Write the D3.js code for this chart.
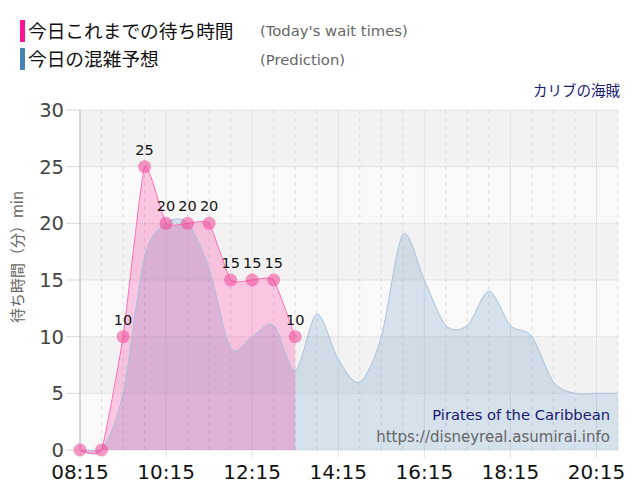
<!DOCTYPE html>
<html>
<head>
<meta charset="utf-8">
<script src="https://cdn.jsdelivr.net/npm/d3@7"></script>
<style>
body { margin: 0; background: #fff; }
text { font-family: "DejaVu Sans", Verdana, sans-serif; }
.jp { font-family: "Noto Sans CJK JP", sans-serif; }
</style>
</head>
<body>
<div id="chart"></div>
<script>
// times in "hh:mm", values in minutes
var todayTimes = ["08:15","08:45","09:15","09:45","10:15","10:45","11:15","11:45","12:15","12:45","13:15"];
var todayWait = [0, 0, 10, 25, 20, 20, 20, 15, 15, 15, 10];

var predTimes = ["08:15","08:45","09:15","09:45","10:15","10:45","11:15","11:45","12:15","12:45","13:15",
	"13:45","14:15","14:45","15:15","15:45","16:15","16:45","17:15","17:45","18:15","18:45","19:15","19:45","20:15","20:45"];
var predWait = [0, 0, 5, 17, 20, 20, 16, 9, 10, 11, 7,
	12, 8, 6, 10, 19, 15, 11, 11, 14, 11, 10, 6, 5, 5, 5];

var xTickLabels = ["08:15","10:15","12:15","14:15","16:15","18:15","20:15"];
var yTicks = [0, 5, 10, 15, 20, 25, 30];

function toMin(s){
	var p = s.split(":");
	return (+p[0]) * 60 + (+p[1]);
}

var chartW = 640, chartH = 500;
var plotLeft = 80, plotRight = 618, plotTop = 110, plotBottom = 450;
var startMin = toMin("08:15");

var svg = d3.select("#chart")
	.append("svg")
	.attr("width", chartW)
	.attr("height", chartH);

var x = d3.scaleLinear()
	.domain([startMin, toMin("20:45")])
	.range([plotLeft, plotRight]);
var y = d3.scaleLinear()
	.domain([0, 30])
	.range([plotBottom, plotTop]);

// background bands
var bands = d3.range(0, 30, 5);
svg.append("g").selectAll("rect")
	.data(bands)
	.enter().append("rect")
	.attr("x", plotLeft)
	.attr("width", plotRight - plotLeft)
	.attr("y", function(d){ return y(d + 5); })
	.attr("height", function(d){ return y(d) - y(d + 5); })
	.attr("fill", function(d, i){ return i % 2 ? "#f2f2f2" : "#f9f9f9"; });

// vertical grid: every 30 min dashed, every 2 h solid
var gridTimes = d3.range(startMin, toMin("20:45") + 1, 30);
function isMajor(d){ return (d - startMin) % 120 === 0; }
svg.append("g").selectAll("line")
	.data(gridTimes)
	.enter().append("line")
	.attr("x1", function(d){ return x(d); })
	.attr("x2", function(d){ return x(d); })
	.attr("y1", plotTop)
	.attr("y2", function(d){ return isMajor(d) ? plotBottom + 8 : plotBottom; })
	.attr("stroke", function(d){ return isMajor(d) ? "#e2e2e2" : "#dcdcdc"; })
	.attr("stroke-dasharray", function(d){ return isMajor(d) ? null : "4,4"; });

// horizontal grid
svg.append("g").selectAll("line")
	.data(yTicks)
	.enter().append("line")
	.attr("x1", plotLeft)
	.attr("x2", plotRight)
	.attr("y1", function(d){ return y(d); })
	.attr("y2", function(d){ return y(d); })
	.attr("stroke", "#cfcfcf")
	.attr("stroke-dasharray", "1,1");
svg.append("g").selectAll("line")
	.data(yTicks)
	.enter().append("line")
	.attr("x1", plotLeft - 14)
	.attr("x2", plotLeft)
	.attr("y1", function(d){ return y(d); })
	.attr("y2", function(d){ return y(d); })
	.attr("stroke", "#d8d8d8");

svg.append("line")
	.attr("x1", plotLeft).attr("x2", plotLeft)
	.attr("y1", plotTop).attr("y2", plotBottom)
	.attr("stroke", "#bbb");

var predData = predTimes.map(function(t, i){ return { t: toMin(t), v: predWait[i] }; });
var todayData = todayTimes.map(function(t, i){ return { t: toMin(t), v: todayWait[i] }; });

var predCurve = d3.curveCardinal.tension(0.1);
var todayCurve = d3.curveCardinal.tension(0.55);

svg.append("path")
	.datum(predData)
	.attr("fill", "rgba(70,130,180,0.2)")
	.attr("d", d3.area()
		.x(function(d){ return x(d.t); })
		.y0(y(0))
		.y1(function(d){ return y(d.v); })
		.curve(predCurve));

svg.append("path")
	.datum(todayData)
	.attr("fill", "rgba(255,20,147,0.22)")
	.attr("d", d3.area()
		.x(function(d){ return x(d.t); })
		.y0(y(0))
		.y1(function(d){ return y(d.v); })
		.curve(todayCurve));

svg.append("path")
	.datum(predData)
	.attr("fill", "none")
	.attr("stroke", "#a9c1d8")
	.attr("stroke-width", 1)
	.attr("d", d3.line()
		.x(function(d){ return x(d.t); })
		.y(function(d){ return y(d.v); })
		.curve(predCurve));

svg.append("path")
	.datum(todayData)
	.attr("fill", "none")
	.attr("stroke", "#ff6fb7")
	.attr("stroke-width", 1)
	.attr("d", d3.line()
		.x(function(d){ return x(d.t); })
		.y(function(d){ return y(d.v); })
		.curve(todayCurve));

svg.append("g").selectAll("circle")
	.data(todayData)
	.enter().append("circle")
	.attr("cx", function(d){ return x(d.t); })
	.attr("cy", function(d){ return y(d.v); })
	.attr("r", 6.5)
	.attr("fill", "rgba(240,70,150,0.55)");

svg.append("g").selectAll("text")
	.data(todayData.filter(function(d){ return d.v > 0; }))
	.enter().append("text")
	.attr("x", function(d){ return x(d.t); })
	.attr("y", function(d){ return y(d.v) - 12; })
	.attr("text-anchor", "middle")
	.attr("font-size", 14.5)
	.attr("fill", "#111")
	.text(function(d){ return d.v; });

// axes labels
svg.append("g").selectAll("text")
	.data(yTicks)
	.enter().append("text")
	.attr("x", plotLeft - 16)
	.attr("y", function(d){ return y(d) + 7; })
	.attr("text-anchor", "end")
	.attr("font-size", 19.5)
	.attr("fill", "#444")
	.text(function(d){ return d; });

svg.append("g").selectAll("text")
	.data(xTickLabels)
	.enter().append("text")
	.attr("x", function(d){ return x(toMin(d)); })
	.attr("y", 479)
	.attr("text-anchor", "middle")
	.attr("font-size", 20)
	.attr("fill", "#111")
	.text(function(d){ return d; });

svg.append("text")
	.attr("class", "jp")
	.attr("transform", "translate(23,257) rotate(-90)")
	.attr("text-anchor", "middle")
	.attr("font-size", 15)
	.attr("fill", "#666")
	.text("待ち時間（分）min");

// legend
svg.append("rect").attr("x", 20).attr("y", 20).attr("width", 5).attr("height", 22).attr("fill", "#ff1493");
svg.append("rect").attr("x", 20).attr("y", 48).attr("width", 5).attr("height", 22).attr("fill", "#4682b4");
svg.append("text").attr("class", "jp").attr("x", 28).attr("y", 38).attr("font-size", 18.7).attr("fill", "#111").text("今日これまでの待ち時間");
svg.append("text").attr("class", "jp").attr("x", 28).attr("y", 66).attr("font-size", 18.7).attr("fill", "#111").text("今日の混雑予想");
svg.append("text").attr("x", 260).attr("y", 36).attr("font-size", 14.8).attr("fill", "#666").text("(Today's wait times)");
svg.append("text").attr("x", 260).attr("y", 65).attr("font-size", 14.8).attr("fill", "#666").text("(Prediction)");

svg.append("text").attr("class", "jp").attr("x", 620).attr("y", 96)
	.attr("text-anchor", "end").attr("font-size", 14.5).attr("fill", "#191970").text("カリブの海賊");

svg.append("text").attr("x", 610).attr("y", 420)
	.attr("text-anchor", "end").attr("font-size", 14.7).attr("fill", "#191970").text("Pirates of the Caribbean");
svg.append("text").attr("x", 610).attr("y", 442)
	.attr("text-anchor", "end").attr("font-size", 15).attr("fill", "#666").text("https://disneyreal.asumirai.info");
</script>
</body>
</html>
